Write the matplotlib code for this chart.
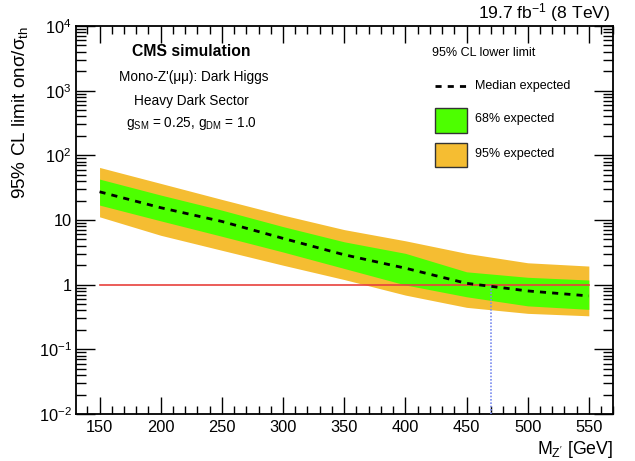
import matplotlib
matplotlib.use("Agg")
import matplotlib.pyplot as plt
from matplotlib.patches import Rectangle
from matplotlib.lines import Line2D
from matplotlib.ticker import LogLocator, FixedLocator, MultipleLocator, FixedFormatter

plt.rcParams['font.family'] = ['Liberation Sans', 'DejaVu Sans']
plt.rcParams['mathtext.fontset'] = 'custom'
plt.rcParams['mathtext.rm'] = 'Liberation Sans'
plt.rcParams['mathtext.it'] = 'Liberation Sans'

mass = [150, 200, 250, 300, 350, 400, 450, 500, 550]
median = [27.3, 15.5, 9.5, 5.2, 2.9, 1.8, 1.05, 0.80, 0.67]
up1 = [42.9, 24.3, 14.2, 7.9, 4.6, 3.05, 1.58, 1.30, 1.18]
dn1 = [17.0, 9.7, 5.6, 3.2, 1.78, 0.99, 0.65, 0.47, 0.415]
up2 = [65, 36.8, 20.8, 11.9, 7.1, 4.77, 3.05, 2.18, 1.94]
dn2 = [11.2, 5.8, 3.4, 2.0, 1.2, 0.69, 0.446, 0.36, 0.33]
mass_limit = 470
x_ticks = [150, 200, 250, 300, 350, 400, 450, 500, 550]
y_ticks = [1e-2, 1e-1, 1, 10, 1e2, 1e3, 1e4]
y_ticklabels = ['$10^{-2}$', '$10^{-1}$', '1', '10', '$10^{2}$', '$10^{3}$', '$10^{4}$']

GREEN = '#4dff00'
ORANGE = '#f5bd32'

W, H = 635, 461
fig = plt.figure(figsize=(W / 100, H / 100), dpi=100)
ax = fig.add_axes([75.7 / W, 1 - 414 / H, (613.3 - 75.7) / W, (414 - 26) / H])

ax.fill_between(mass, dn2, up2, color=ORANGE, lw=0, zorder=1)
ax.fill_between(mass, dn1, up1, color=GREEN, lw=0, zorder=2)
ax.plot(mass, median, color='black', ls=(0, (2.2, 2.2)), lw=2, zorder=4)
ax.plot([mass[0], mass[-1]], [1, 1], color='#e8413c', lw=1.2, zorder=3)
ax.plot([mass_limit, mass_limit], [1e-2, 1], color='#7a8cf0', lw=1.2, ls=(0, (1, 1)), zorder=3)

ax.set_yscale('log')
ax.set_xlim(130.5, 570)
ax.set_ylim(1e-2, 1e4)
ax.xaxis.set_major_locator(FixedLocator(x_ticks))
ax.xaxis.set_minor_locator(MultipleLocator(10))
ax.yaxis.set_major_locator(FixedLocator(y_ticks))
ax.yaxis.set_major_formatter(FixedFormatter(y_ticklabels))
ax.yaxis.set_minor_locator(LogLocator(base=10, subs=range(2, 10), numticks=20))
ax.tick_params(which='both', direction='in', top=True, right=True, labelsize=11.8, width=1)
ax.tick_params(axis='x', which='major', length=12, pad=4)
ax.tick_params(axis='x', which='minor', length=6)
ax.tick_params(axis='y', which='major', length=14, pad=3)
ax.tick_params(axis='y', which='minor', length=7)
for s in ax.spines.values():
    s.set_linewidth(1.3)

ax.set_ylabel('95% CL limit onσ/σ$_{\\mathregular{th}}$', fontsize=13.6, loc='top', labelpad=6)
ax.set_xlabel("M$_{\\mathregular{Z'}}$ [GeV]", fontsize=12.8, loc='right', labelpad=3)

def fx(px):
    return px / W
def fy(py):
    return 1 - py / H

fig.text(fx(610), fy(13), '19.7 fb$^{\\mathregular{-1}}$ (8 TeV)', fontsize=12.6, ha='right', va='center')
fig.text(fx(191), fy(51), 'CMS simulation', fontsize=11.3, fontweight='bold', ha='center', va='center')
fig.text(fx(194), fy(77), "Mono-Z'(μμ): Dark Higgs", fontsize=9.8, ha='center', va='center')
fig.text(fx(191), fy(101), 'Heavy Dark Sector', fontsize=9.8, ha='center', va='center')
fig.text(fx(191), fy(124), 'g$_{\\mathregular{SM}}$ = 0.25, g$_{\\mathregular{DM}}$ = 1.0', fontsize=9.8, ha='center', va='center')

fig.text(fx(432), fy(53), '95% CL lower limit', fontsize=9, ha='left', va='center')
fig.add_artist(Line2D([fx(435), fx(467)], [fy(86), fy(86)], color='black', ls=(0, (2.2, 2.2)), lw=2, transform=fig.transFigure))
fig.text(fx(475), fy(86), 'Median expected', fontsize=9, ha='left', va='center')
fig.add_artist(Rectangle((fx(435), fy(133)), fx(467) - fx(435), fy(108) - fy(133), facecolor=GREEN, edgecolor='#333333', lw=1, transform=fig.transFigure))
fig.text(fx(475), fy(119), '68% expected', fontsize=9, ha='left', va='center')
fig.add_artist(Rectangle((fx(435), fy(167)), fx(467) - fx(435), fy(143) - fy(167), facecolor=ORANGE, edgecolor='#333333', lw=1, transform=fig.transFigure))
fig.text(fx(475), fy(154), '95% expected', fontsize=9, ha='left', va='center')

fig.savefig('out.png', dpi=100)
